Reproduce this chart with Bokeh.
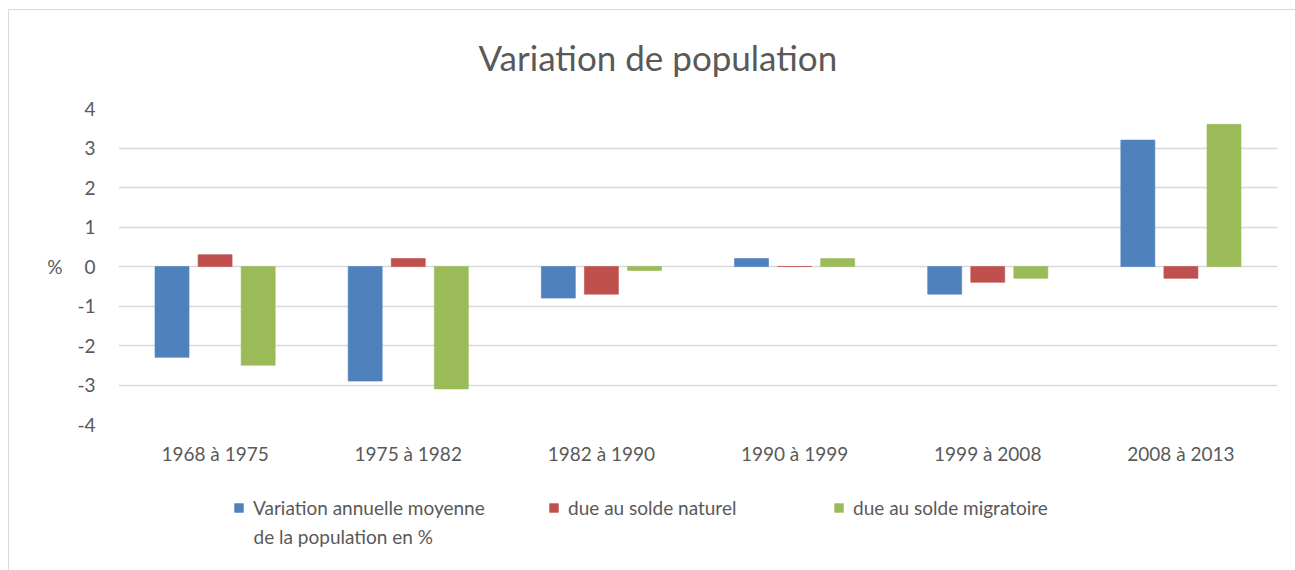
from bokeh.plotting import figure
from bokeh.layouts import column
from bokeh.models import (FactorRange, Legend, LegendItem, FixedTicker, ColumnDataSource,
                          PrintfTickFormatter, LinearAxis, Range1d, Label)
from bokeh.transform import dodge
from bokeh.embed import file_html
from bokeh.resources import INLINE

periods = ["1968 à 1975", "1975 à 1982", "1982 à 1990", "1990 à 1999", "1999 à 2008", "2008 à 2013"]
variation = [-2.3, -2.9, -0.8, 0.2, -0.7, 3.2]
naturel = [0.3, 0.2, -0.7, 0.0, -0.4, -0.3]
migratoire = [-2.5, -3.1, -0.1, 0.2, -0.3, 3.6]
y_ticks = [-4, -3, -2, -1, 0, 1, 2, 3, 4]
y_unit = "%"

series_names = ["Variation annuelle moyenne", "due au solde naturel", "due au solde migratoire"]
series_name_line2 = "de la population en %"
colors = ["#4F81BD", "#C0504D", "#9BBB59"]

src = ColumnDataSource(dict(period=periods, v=variation, n=naturel, m=migratoire))

TXT = "#595959"
FONT = "Lato"
BORDER = "linear-gradient(#d9d9d9, #d9d9d9)"

offs = [-0.223, 0.0, 0.223]
cols = ["v", "n", "m"]

# ---------------- main chart ----------------
x_range = FactorRange(factors=periods)
p = figure(x_range=x_range, y_range=(-4, 4),
           width=1295, height=480, output_backend="svg", toolbar_location=None,
           min_border_left=118, min_border_right=18, min_border_top=108, min_border_bottom=56)
p.border_fill_alpha = 0
p.styles = {
    "background-image": f"{BORDER}, {BORDER}",
    "background-size": "1px 100%, 100% 1px",
    "background-position": "8px 9px, 8px 9px",
    "background-repeat": "no-repeat",
}

p.title.text = "Variation de population"
p.title.align = "left"
p.title.offset = 360
p.title.text_font = FONT
p.title.text_font_size = "35px"
p.title.text_font_style = "normal"
p.title.text_color = TXT
p.title.standoff = 62

for off, c, col in zip(offs, cols, colors):
    p.vbar(x=dodge("period", off, range=x_range), top=c, bottom=0, width=0.176,
           source=src, fill_color=col, line_color=col, line_alpha=0.6)

p.outline_line_color = None
p.background_fill_color = "white"

p.xgrid.grid_line_color = None
p.ygrid.grid_line_color = "#d9d9d9"
p.ygrid.grid_line_width = 1.3

p.yaxis.ticker = FixedTicker(ticks=y_ticks)
p.yaxis.formatter = PrintfTickFormatter(format="%d")

unit_axis = LinearAxis(ticker=FixedTicker(ticks=[0]), major_label_overrides={0: y_unit})
p.add_layout(unit_axis, "left")

for ax in (p.xaxis[0], p.yaxis[0], unit_axis):
    ax.axis_line_color = None
    ax.major_tick_line_color = None
    ax.minor_tick_line_color = None
    ax.major_tick_out = 0
    ax.major_tick_in = 0
    ax.minor_tick_out = 0
    ax.minor_tick_in = 0
    ax.major_label_text_font = FONT
    ax.major_label_text_font_size = "19px"
    ax.major_label_text_color = TXT
p.yaxis[0].major_label_standoff = 23
unit_axis.major_label_standoff = 12
p.xaxis[0].major_label_standoff = 17

# ---------------- legend strip ----------------
# same data, drawn far outside this strip's y range so only the legend keys show
pl = figure(width=1295, height=90, x_range=x_range, y_range=Range1d(100, 101),
            output_backend="svg", toolbar_location=None,
            x_axis_location=None, y_axis_location=None,
            min_border_left=118, min_border_right=18, min_border_top=0, min_border_bottom=0)
pl.border_fill_alpha = 0
pl.background_fill_alpha = 0
pl.outline_line_color = None
pl.grid.visible = False
pl.styles = {
    "background-image": BORDER,
    "background-size": "1px 100%",
    "background-position": "8px 0px",
    "background-repeat": "no-repeat",
}

leg_x = [115, 430, 715]   # offsets from the plotting frame's left edge
for name, off, c, col, lx in zip(series_names, offs, cols, colors, leg_x):
    r = pl.vbar(x=dodge("period", off, range=x_range), top=c, bottom=0, width=0.176,
                source=src, fill_color=col, line_color=col, line_alpha=0.6)
    lg = Legend(items=[LegendItem(label=name, renderers=[r])], location=(lx, 51),
                label_text_font=FONT, label_text_font_size="19px", label_text_color=TXT,
                glyph_width=11, glyph_height=11, label_standoff=9,
                padding=0, margin=0, border_line_color=None,
                background_fill_alpha=0, label_height=20)
    pl.add_layout(lg)

pl.add_layout(Label(x=135, y=34, x_units="screen", y_units="screen", text=series_name_line2,
                    text_font=FONT, text_font_size="19px", text_color=TXT,
                    text_align="left", text_baseline="middle"))

layout = column(p, pl, spacing=0)
open("out.html", "w").write(file_html(layout, INLINE))
